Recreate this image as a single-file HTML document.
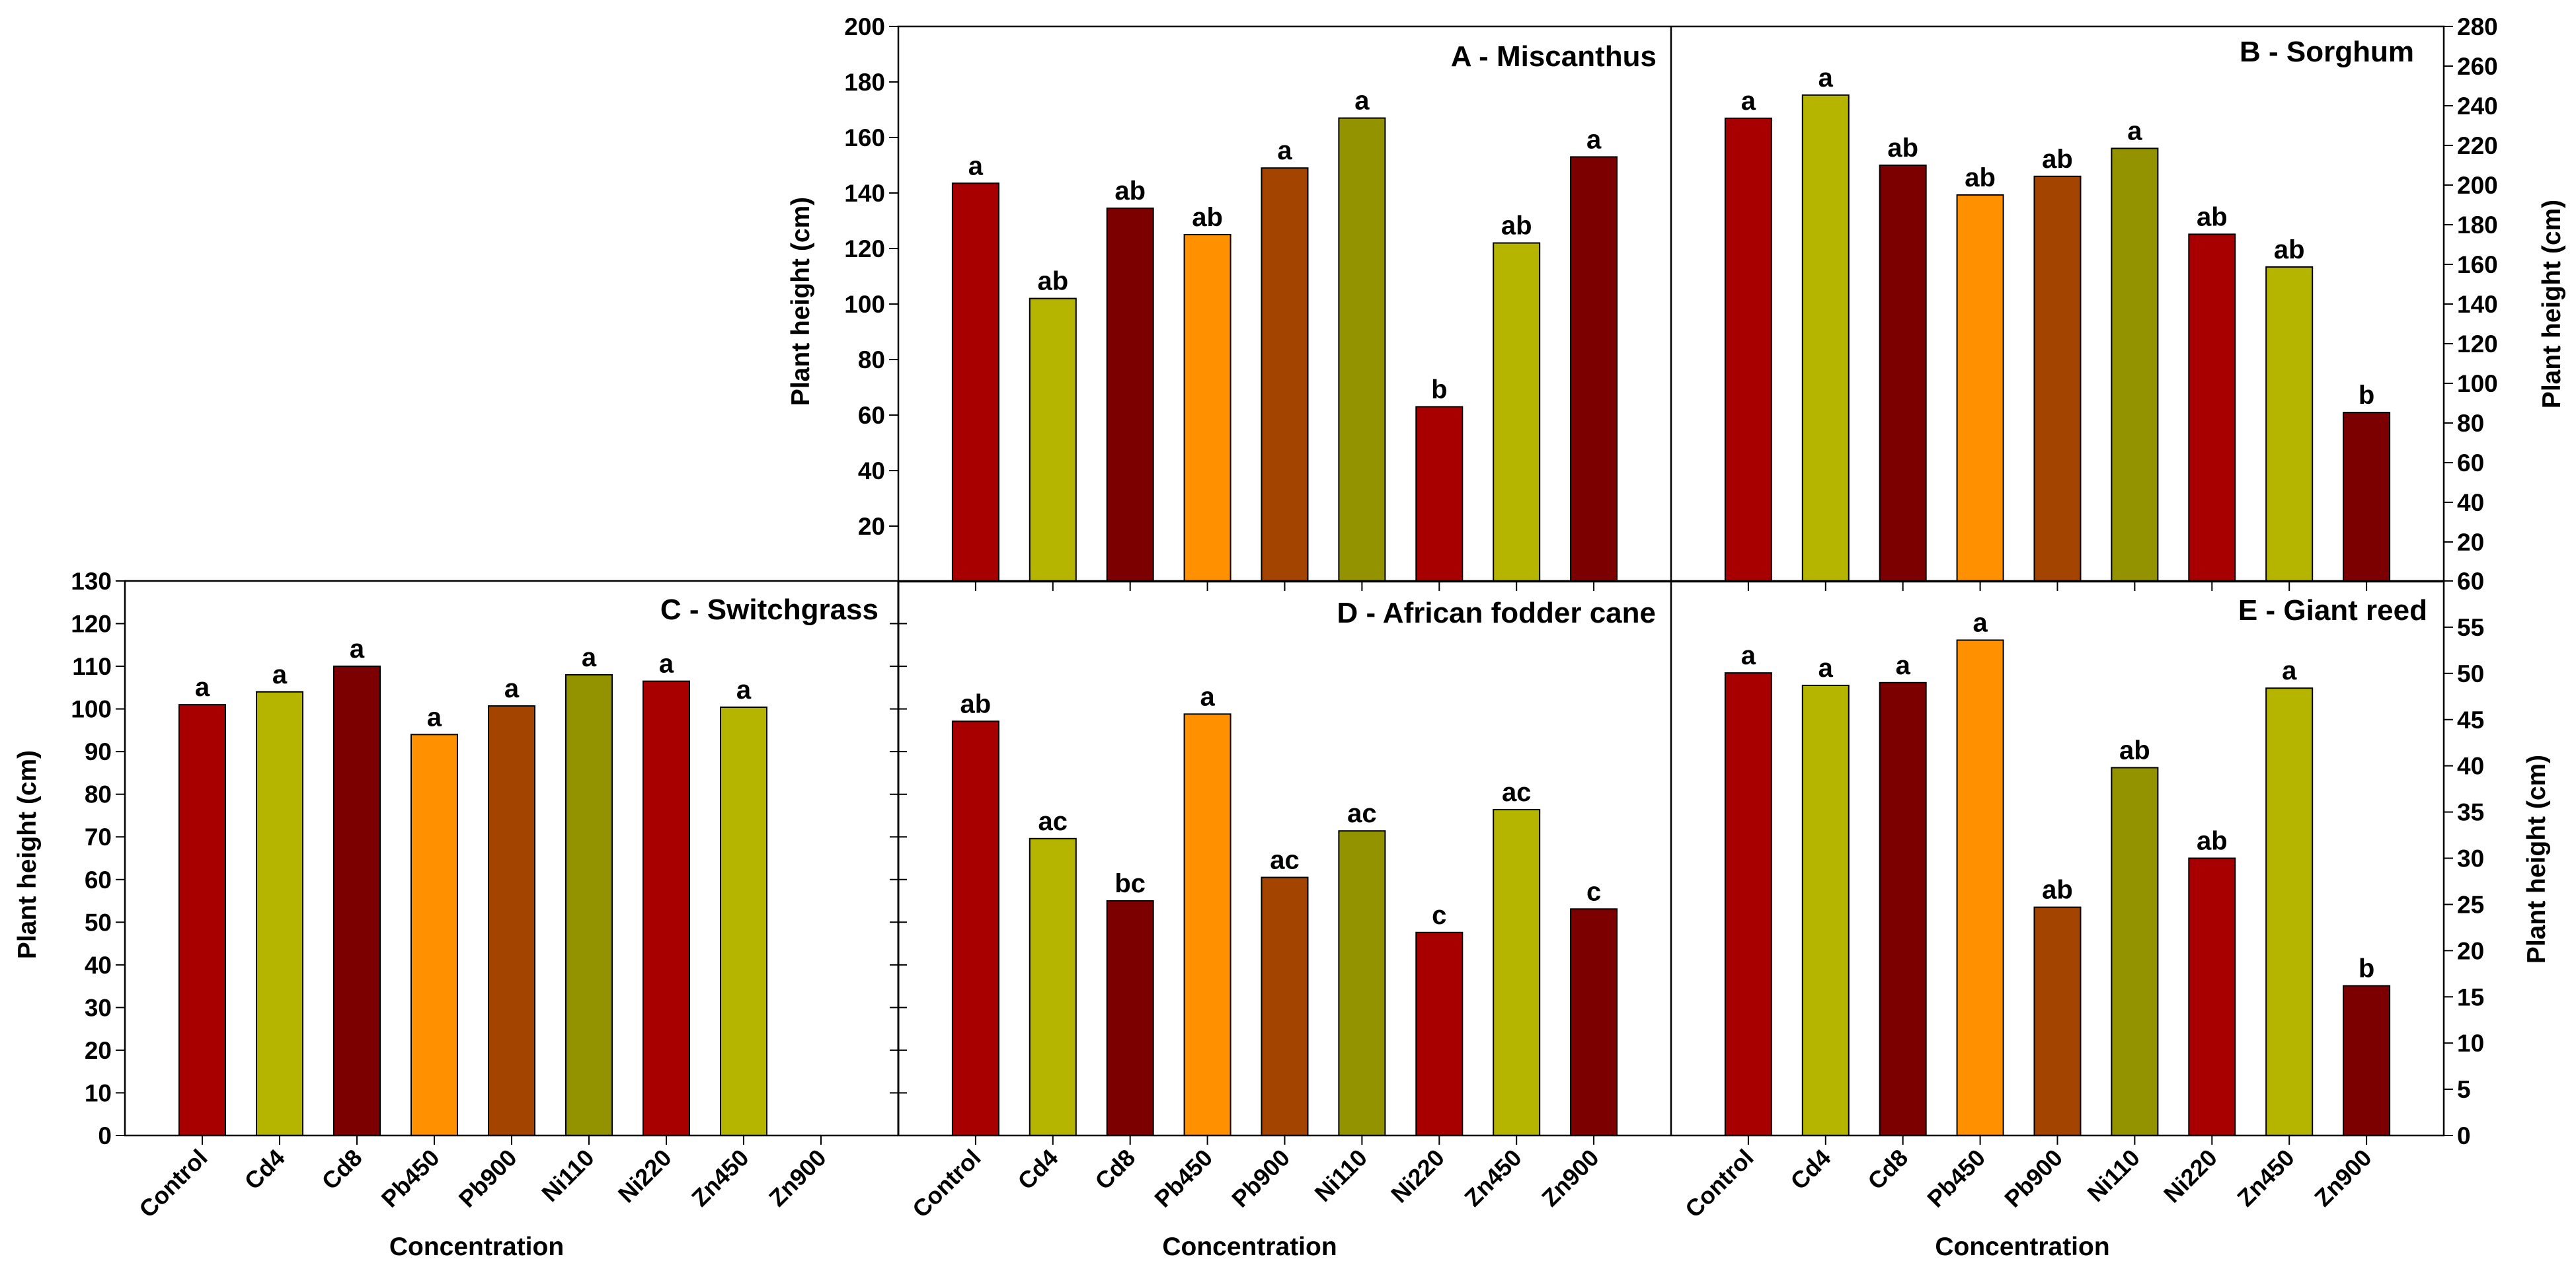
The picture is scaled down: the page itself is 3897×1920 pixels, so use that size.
<!DOCTYPE html>
<html><head><meta charset="utf-8">
<style>
html,body{margin:0;padding:0;background:#fff;}
svg{display:block;font-family:"Liberation Sans",Arial,sans-serif;}
</style></head>
<body>
<svg id="chart" width="3897" height="1920" viewBox="0 0 3897 1920" xmlns="http://www.w3.org/2000/svg"></svg>
<script>
const categories = ["Control","Cd4","Cd8","Pb450","Pb900","Ni110","Ni220","Zn450","Zn900"];
const colors = ["#A80000","#B5B500","#7D0000","#FF9100","#A34400","#939300","#A80000","#B5B500","#7D0000"];

const valuesA = [143.5,102,134.5,125,149,167,63,122,153];
const lettersA = ["a","ab","ab","ab","a","a","b","ab","a"];
const valuesB = [233.7,245.4,210,195,204.4,218.5,175.2,158.7,85.3];
const lettersB = ["a","a","ab","ab","ab","a","ab","ab","b"];
const valuesC = [101,104,110,94,100.7,108,106.5,100.4,null];
const lettersC = ["a","a","a","a","a","a","a","a",""];
const valuesD = [97.1,69.6,55,98.8,60.5,71.4,47.6,76.4,53.1];
const lettersD = ["ab","ac","bc","a","ac","ac","c","ac","c"];
const valuesE = [50.05,48.7,49.0,53.6,24.7,39.8,30.0,48.4,16.2];
const lettersE = ["a","a","a","a","ab","ab","ab","a","b"];

const ticksA = [20,40,60,80,100,120,140,160,180,200];
const ticksB = [20,40,60,80,100,120,140,160,180,200,220,240,260,280];
const ticksC = [0,10,20,30,40,50,60,70,80,90,100,110,120,130];
const ticksE = [0,5,10,15,20,25,30,35,40,45,50,55,60];

const svg = document.getElementById('chart');
const NS = "http://www.w3.org/2000/svg";
function mk(tag, attrs, parent){
  const e = document.createElementNS(NS, tag);
  for (const k in attrs) e.setAttribute(k, attrs[k]);
  (parent||svg).appendChild(e);
  return e;
}

const panels = [
  {id:"a", x0:1359, x1:2528, y0:40, y1:880, max:200, values:valuesA, letters:lettersA, title:"A - Miscanthus", tx:2506, ty:100},
  {id:"b", x0:2528, x1:3697, y0:40, y1:880, max:280, values:valuesB, letters:lettersB, title:"B - Sorghum", tx:3652, ty:93},
  {id:"c", x0:189, x1:1359, y0:879, y1:1718, max:130, values:valuesC, letters:lettersC, title:"C - Switchgrass", tx:1329, ty:937},
  {id:"d", x0:1359, x1:2528, y0:879, y1:1718, max:130, values:valuesD, letters:lettersD, title:"D - African fodder cane", tx:2505, ty:942},
  {id:"e", x0:2528, x1:3697, y0:879, y1:1718, max:60, values:valuesE, letters:lettersE, title:"E - Giant reed", tx:3672, ty:938}
];

panels.forEach(p => {
  const g = mk('g', {});
  
  
  const step = (p.x1 - p.x0) / 10;
  const xPos = i => p.x0 + (i + 1) * step;
  const yPos = v => p.y1 - v / p.max * (p.y1 - p.y0);
  const bw = 70;
  p.values.forEach((v, i) => {
    if (v === null) return;
    const r = mk('rect', {x: xPos(i) - bw/2, y: yPos(v), width: bw, height: p.y1 - yPos(v), fill: colors[i], stroke: "#000", "stroke-width": 2}, g);
    
    
    const t = mk('text', {x: xPos(i), y: yPos(v) - 13, "text-anchor": "middle", "font-size": 40, "font-weight": "bold"}, g);
    t.textContent = p.letters[i];
    
    
  });
  categories.forEach((c, i) => {
    mk('line', {x1: xPos(i), x2: xPos(i), y1: p.y1, y2: p.y1 + 14, stroke: "#000", "stroke-width": 2}, g);
  });
  const tt = mk('text', {x: p.tx, y: p.ty, "text-anchor": "end", "font-size": 44, "font-weight": "bold"}, g);
  tt.textContent = p.title;
  
  
});

// frames
mk('rect', {x:1359, y:40, width:2338, height:840, fill:"none", stroke:"#000", "stroke-width":2.5});
mk('line', {x1:2528, x2:2528, y1:40, y2:880, stroke:"#000", "stroke-width":2.5});
mk('rect', {x:189, y:879, width:3508, height:839, fill:"none", stroke:"#000", "stroke-width":2.5});
mk('line', {x1:1359, x2:1359, y1:879, y2:1718, stroke:"#000", "stroke-width":3});
mk('line', {x1:2528, x2:2528, y1:879, y2:1718, stroke:"#000", "stroke-width":2.5});

function yAxis(p, ticks, side, name){
  const g = mk('g', {});
  
  
  const yPos = v => p.y1 - v / p.max * (p.y1 - p.y0);
  ticks.forEach(v => {
    const y = yPos(v);
    if (side === 'left') {
      mk('line', {x1: p.x0 - 14, x2: p.x0, y1: y, y2: y, stroke:"#000", "stroke-width":2}, g);
      const t = mk('text', {x: p.x0 - 20, y: y + 13, "text-anchor":"end", "font-size":37, "font-weight":"bold"}, g);
      t.textContent = v;
    } else {
      mk('line', {x1: p.x1, x2: p.x1 + 14, y1: y, y2: y, stroke:"#000", "stroke-width":2}, g);
      const t = mk('text', {x: p.x1 + 20, y: y + 13, "text-anchor":"start", "font-size":37, "font-weight":"bold"}, g);
      t.textContent = v;
    }
  });
}
yAxis(panels[0], ticksA, 'left', 'y-axis-a');
yAxis(panels[1], ticksB, 'right', 'y-axis-b');
yAxis(panels[2], ticksC, 'left', 'y-axis-c');
yAxis(panels[4], ticksE, 'right', 'y-axis-e');
// D left-axis ticks (crossing)
ticksC.forEach(v => {
  const p = panels[3];
  const y = p.y1 - v / p.max * (p.y1 - p.y0);
  mk('line', {x1: 1346, x2: 1372, y1: y, y2: y, stroke:"#000", "stroke-width":2});
});

// category labels for bottom row
[panels[2], panels[3], panels[4]].forEach(p => {
  const step = (p.x1 - p.x0) / 10;
  categories.forEach((c, i) => {
    const x = p.x0 + (i + 1) * step + 10;
    const y = p.y1 + 36;
    const t = mk('text', {x: x, y: y, "text-anchor":"end", "font-size":36, "font-weight":"bold", transform:`rotate(-45 ${x} ${y})`});
    t.textContent = c;
    
    
  });
  const xt = mk('text', {x: (p.x0 + p.x1)/2 - 53, y: 1899, "text-anchor":"middle", "font-size":39, "font-weight":"bold"});
  xt.textContent = "Concentration";
  
  
});

function yTitle(x, y, rot, name){
  const t = mk('text', {x: x, y: y, "text-anchor":"middle", "font-size":39, "font-weight":"bold", transform:`rotate(${rot} ${x} ${y})`});
  t.textContent = "Plant height (cm)";
  
  
}
yTitle(1224, 456, -90, 'y-axis-title-a');
yTitle(54, 1293, -90, 'y-axis-title-c');
yTitle(3873, 460, -90, 'y-axis-title-b');
yTitle(3850, 1300, -90, 'y-axis-title-e');
</script>
</body></html>
